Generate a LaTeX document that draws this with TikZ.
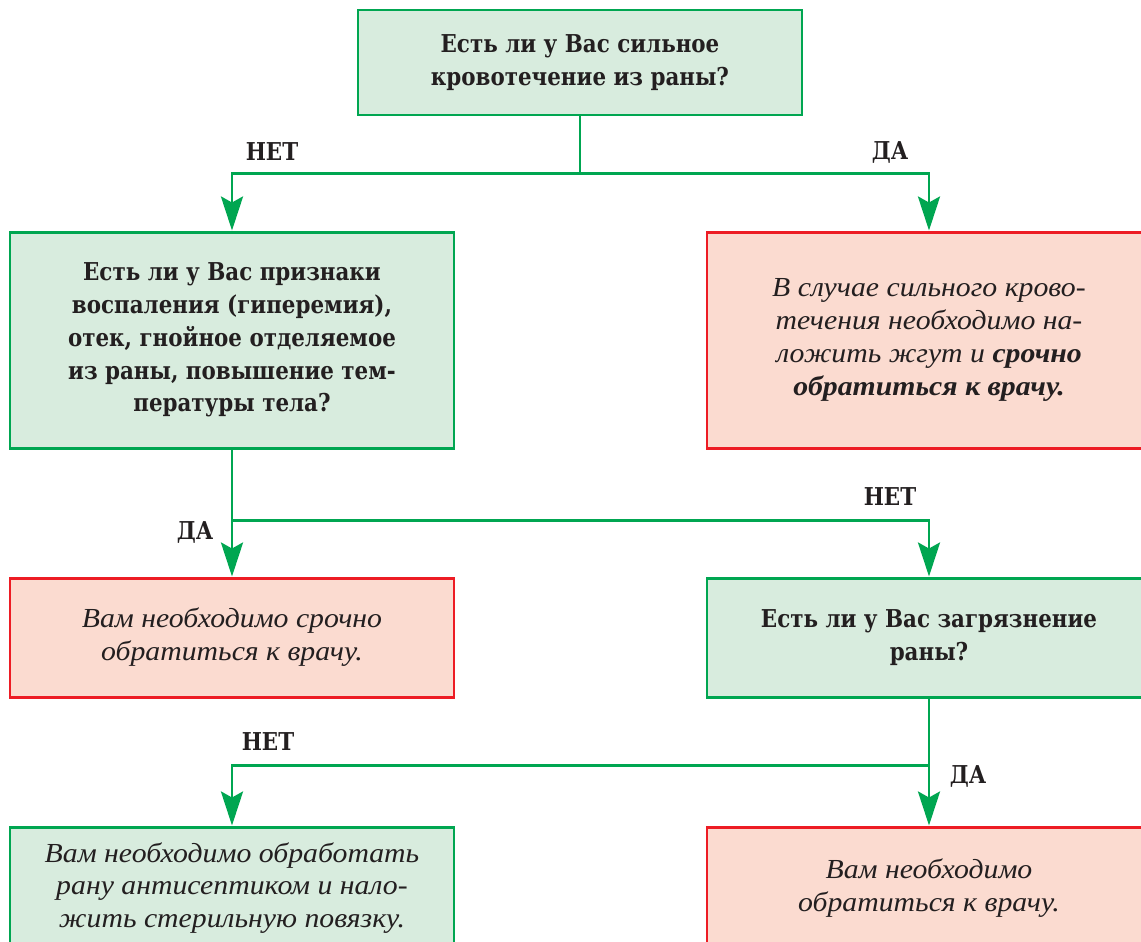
\documentclass[tikz,border=0pt]{standalone}
\usepackage{fontspec}
\setmainfont[FakeStretch=0.87,
    ItalicFont={Liberation Serif Italic},
    BoldItalicFont={Liberation Serif Bold Italic},
    ItalicFeatures={Scale=1.12, FakeStretch=1.08},
    BoldItalicFeatures={Scale=1.12, FakeStretch=1.08}]{DejaVu Serif}
\usetikzlibrary{arrows.meta}

\definecolor{boxgreen}{RGB}{0,166,81}
\definecolor{fillgreen}{RGB}{216,236,222}
\definecolor{boxred}{RGB}{237,28,36}
\definecolor{fillred}{RGB}{251,219,208}
\definecolor{txt}{RGB}{35,31,32}

\tikzset{
    qbox/.style={draw=boxgreen, fill=fillgreen, line width=1.7pt, align=center,
        text=txt, minimum width=8.88cm, font=\fontsize{14}{18.7}\selectfont\bfseries},
    rbox/.style={draw=boxred, fill=fillred, line width=1.7pt, align=center,
        text=txt, minimum width=8.88cm, font=\fontsize{14}{18.7}\selectfont\itshape},
    arr/.style={draw=boxgreen, line width=1.7pt,
        -{Stealth[length=6.8mm, width=4.4mm, inset=1.2mm]}},
    lbl/.style={text=txt, font=\fontsize{14}{18.7}\selectfont\bfseries}
}

\begin{document}
\begin{tikzpicture}
        % frame
            \useasboundingbox (0,0) rectangle (22.82,-18.84);
            \clip (0,0) rectangle (22.82,-18.84);
        % boxes
            \node[qbox, minimum height=2.1cm] (q1) at (11.6,-1.25)
                {Есть ли у Вас сильное\\кровотечение из раны?};
            \node[qbox, minimum height=4.32cm] (q2) at (4.64,-6.8)
                {Есть ли у Вас признаки\\воспаления (гиперемия),\\отек, гнойное отделяемое\\из раны, повышение тем-\\пературы тела?};
            \node[rbox, minimum height=4.32cm] (a1) at (18.58,-6.8)
                {В случае сильного крово-\\течения необходимо на-\\ложить жгут и \textbf{срочно}\\\textbf{обратиться к врачу.}};
            \node[rbox, minimum height=2.38cm] (a2) at (4.64,-12.75)
                {Вам необходимо срочно\\обратиться к врачу.};
            \node[qbox, minimum height=2.38cm] (q3) at (18.58,-12.75)
                {Есть ли у Вас загрязнение\\раны?};
            \node[qbox, font=\fontsize{14}{18.7}\selectfont\itshape, minimum height=2.44cm] (a3) at (4.64,-17.76)
                {Вам необходимо обработать\\рану антисептиком и нало-\\жить стерильную повязку.};
            \node[rbox, minimum height=2.44cm] (a4) at (18.58,-17.76)
                {Вам необходимо\\обратиться к врачу.};
        % lines
            \coordinate (j1) at (11.6,-3.46);
            \coordinate (j2) at (4.64,-10.4);
            \coordinate (j3) at (18.58,-15.3);
            \draw [draw=boxgreen, line width=1.7pt] (q1) -- (j1);
            \draw [arr] (j1) -| (q2);
            \draw [arr] (j1) -| (a1);
            \draw [arr] (q2) -- (a2);
            \draw [arr] (j2) -| (q3);
            \draw [draw=boxgreen, line width=1.7pt] (q3) -- (j3);
            \draw [arr] (j3) -- (a4);
            \draw [arr] (j3) -| (a3);
        % labels
            \node[lbl] (n1) at (5.44,-3.04) {НЕТ};
            \node[lbl] (y1) at (17.8,-3.04) {ДА};
            \node[lbl] (y2) at (3.9,-10.64) {ДА};
            \node[lbl] (n2) at (17.8,-9.94) {НЕТ};
            \node[lbl] (n3) at (5.36,-14.84) {НЕТ};
            \node[lbl] (y3) at (19.36,-15.52) {ДА};
    \end{tikzpicture}
\end{document}
